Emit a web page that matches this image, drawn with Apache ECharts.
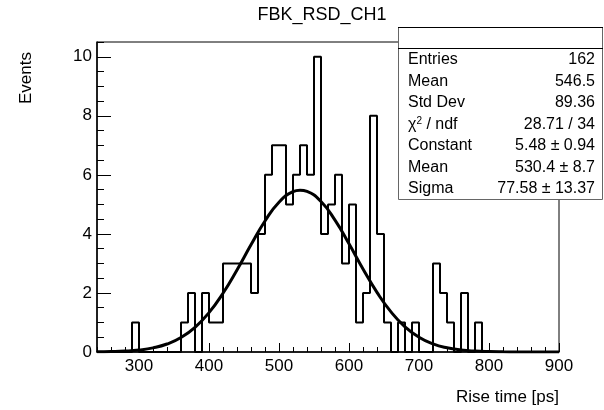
<!DOCTYPE html>
<html>
<head>
<meta charset="utf-8">
<script src="https://cdn.jsdelivr.net/npm/echarts@6/dist/echarts.min.js"></script>
<style>
  html, body { margin: 0; padding: 0; background: #fff; }
  #chart { width: 604px; height: 410px; }
</style>
</head>
<body>
<div id="chart"></div>
<script>
  // 直方图：每格 10 ps，从 240 到 900
  var binLow = 240;
  var binWidth = 10;
  var counts = [
    0, 0, 0, 0, 0, 1, 0, 0, 0, 0, 0, 0,     // 240-350
    1, 2, 0, 2, 1, 1, 3, 3, 3, 3, 2, 4,     // 360-470
    6, 7, 7, 5, 6, 7, 6, 10, 4, 5, 6, 3,    // 480-590
    5, 1, 2, 8, 4, 1, 0, 1, 0, 1, 0, 0,     // 600-710
    3, 2, 1, 0, 2, 0, 1, 0, 0, 0, 0, 0,     // 720-830
    0, 0, 0, 0, 0, 0                        // 840-890
  ];

  // 拟合曲线（高斯）
  var fitX = [240, 260, 280, 300, 320, 340, 360, 380, 400, 420, 440, 460, 480, 500, 520, 530,
              540, 560, 580, 600, 620, 640, 660, 680, 700, 720, 740, 760, 780, 800, 820, 840, 860, 880, 900];
  var fitY = [0.005, 0.013, 0.03, 0.067, 0.139, 0.27, 0.491, 0.837, 1.334, 1.991, 2.78, 3.63, 4.438, 5.075, 5.431, 5.48,
              5.438, 5.095, 4.467, 3.665, 2.813, 2.02, 1.358, 0.854, 0.502, 0.277, 0.143, 0.069, 0.031, 0.013, 0.005, 0.002, 0.001, 0, 0];

  var xMajor = [300, 400, 500, 600, 700, 800, 900];
  var xMinor = [240, 260, 280, 320, 340, 360, 380, 420, 440, 460, 480, 520, 540, 560, 580, 620, 640, 660, 680, 720, 740, 760, 780, 820, 840, 860, 880];
  var yMajor = [0, 2, 4, 6, 8, 10];
  var yMinor = [0.5, 1, 1.5, 2.5, 3, 3.5, 4.5, 5, 5.5, 6.5, 7, 7.5, 8.5, 9, 9.5, 10.5];

  var statNames = ['Entries', 'Mean', 'Std Dev', 'χ{sup|2} / ndf', 'Constant', 'Mean', 'Sigma'];
  var statValues = ['162', '546.5', '89.36', '28.71 / 34', '5.48 ± 0.94', '530.4 ± 8.7', '77.58 ± 13.37'];

  var font = '"Liberation Sans", Arial, sans-serif';

  var histData = [];
  for (var i = 0; i < counts.length; i++) {
    histData.push([binLow + i * binWidth, counts[i]]);
  }
  histData.push([binLow + counts.length * binWidth, counts[counts.length - 1]]);

  var fitData = fitX.map(function (x, i) { return [x, fitY[i]]; });

  // 统计框
  var statGraphics = [{
    type: 'rect',
    shape: { x: 398.5, y: 27.5, width: 204, height: 172 },
    style: { fill: '#fff', stroke: '#666', lineWidth: 1 },
    z: 100
  }, {
    type: 'line',
    shape: { x1: 398, y1: 27.5, x2: 603, y2: 27.5 },
    style: { stroke: '#000', lineWidth: 1 },
    z: 101
  }, {
    type: 'line',
    shape: { x1: 398, y1: 48.5, x2: 603, y2: 48.5 },
    style: { stroke: '#000', lineWidth: 1 },
    z: 101
  }];
  for (var k = 0; k < statNames.length; k++) {
    var yRow = 60 + k * 21.5;
    statGraphics.push({
      type: 'text', z: 101,
      style: {
        x: 408, y: yRow, text: statNames[k], fill: '#000',
        font: '16px ' + font, textAlign: 'left', textVerticalAlign: 'middle',
        rich: { sup: { fontSize: 10, verticalAlign: 'top', padding: [0, 0, 6, 0] } }
      }
    });
    statGraphics.push({
      type: 'text', z: 101,
      style: {
        x: 595, y: yRow, text: statValues[k], fill: '#000',
        font: '16px ' + font, textAlign: 'right', textVerticalAlign: 'middle'
      }
    });
  }

  var chart = echarts.init(document.getElementById('chart'));

  var option = {
    animation: false,
    backgroundColor: '#fff',
    textStyle: { fontFamily: font },
    grid: {
      left: 97, right: 45, top: 42, bottom: 58,
      show: true, borderColor: '#000', borderWidth: 1, backgroundColor: '#fff'
    },
    xAxis: [{
      type: 'value', min: 240, max: 900, position: 'bottom',
      axisLine: { onZero: false, lineStyle: { color: '#000', width: 1.5 } },
      axisTick: { inside: true, length: 9, customValues: xMajor, lineStyle: { color: '#000' } },
      axisLabel: { customValues: xMajor, color: '#000', fontSize: 17, margin: 6 },
      splitLine: { show: false },
      name: 'Rise time [ps]', nameLocation: 'end', nameGap: 0,
      nameTextStyle: { color: '#000', fontSize: 17, align: 'right', verticalAlign: 'top', padding: [37, 0, 0, 0] }
    }, {
      type: 'value', min: 240, max: 900, position: 'bottom',
      axisLine: { show: false, onZero: false },
      axisTick: { inside: true, length: 5, customValues: xMinor, lineStyle: { color: '#000' } },
      axisLabel: { show: false },
      splitLine: { show: false }
    }],
    yAxis: [{
      type: 'value', min: 0, max: 10.5, position: 'left',
      axisLine: { show: true, onZero: false, lineStyle: { color: '#000', width: 1.5 } },
      axisTick: { show: true, inside: true, length: 14, customValues: yMajor, lineStyle: { color: '#000' } },
      axisLabel: { customValues: yMajor, color: '#000', fontSize: 17, margin: 5 },
      splitLine: { show: false },
      name: 'Events', nameLocation: 'end', nameRotate: 90, nameGap: 0,
      nameTextStyle: { color: '#000', fontSize: 17, align: 'right', verticalAlign: 'bottom', padding: [0, 10, 62, 0] }
    }, {
      type: 'value', min: 0, max: 10.5, position: 'left',
      axisLine: { show: false, onZero: false },
      axisTick: { show: true, inside: true, length: 7, customValues: yMinor, lineStyle: { color: '#000' } },
      axisLabel: { show: false },
      splitLine: { show: false }
    }],
    series: [{
      name: 'hist',
      type: 'line',
      step: 'end',
      data: histData,
      symbol: 'none',
      lineStyle: { color: '#000', width: 2 },
      z: 3
    }, {
      name: 'gaus',
      type: 'line',
      smooth: true,
      data: fitData,
      symbol: 'none',
      lineStyle: { color: '#000', width: 3 },
      z: 4
    }],
    graphic: [{
      type: 'text',
      style: {
        x: 322, y: 15, text: 'FBK_RSD_CH1', fill: '#000',
        font: '18px ' + font, textAlign: 'center', textVerticalAlign: 'middle'
      }
    }].concat(statGraphics)
  };

  chart.setOption(option);
</script>
</body>
</html>
